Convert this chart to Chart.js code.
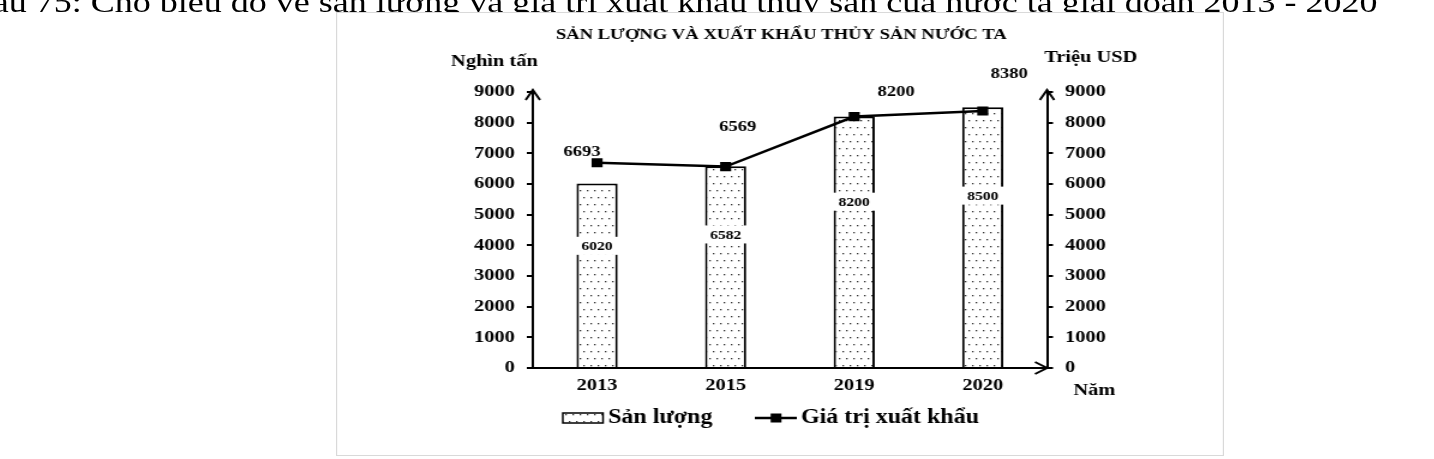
<!DOCTYPE html>
<html lang="vi">
<head>
<meta charset="utf-8">
<title>Sản lượng và xuất khẩu thủy sản nước ta</title>
<script src="https://cdn.jsdelivr.net/npm/chart.js@4.4.1/dist/chart.umd.min.js"></script>
<style>
  html, body { margin: 0; padding: 0; background: #fff; overflow: hidden; }
  /* the source picture is stretched sideways, so the whole page is too */
  #page { position: absolute; left: 0; top: 0; width: 1195px; height: 459px;
          transform: scaleX(1.2); transform-origin: 0 0; overflow: hidden; }
  #question { position: absolute; right: 47px; top: -13px; white-space: nowrap;
              font-family: "Liberation Serif", serif; font-size: 30px; line-height: 30px; color: #000; }
  #box { position: absolute; left: 280px; top: 12px; width: 738px; height: 442px;
         border: 1px solid #d9d9d9; background: #fff; }
  #box canvas { position: absolute; left: 0; top: 0; }
</style>
</head>
<body>
<div id="page">
  <div id="question">Câu 75: Cho biểu đồ về sản lượng và giá trị xuất khẩu thủy sản của nước ta giai đoạn 2013 - 2020</div>
  <div id="box"><canvas id="fishChart" width="738" height="442"></canvas></div>
</div>
<script>
    // Data
    const years = ['2013', '2015', '2019', '2020'];
    const sanLuong = [6020, 6582, 8200, 8500];   // nghìn tấn (bars)
    const xuatKhau = [6693, 6569, 8200, 8380];   // triệu USD (line)
    const tickValues = [0, 1000, 2000, 3000, 4000, 5000, 6000, 7000, 8000, 9000];

    // where the line value labels sit, relative to their point
    const lineLabelOffsets = [[-12.5, -11], [10, -40], [35, -25], [22, -37]];

    const FONT = '"Liberation Serif", "Times New Roman", serif';

    // dotted fill for the bars
    function dotPattern() {
        const tile = document.createElement('canvas');
        tile.width = 6;
        tile.height = 14;
        const t = tile.getContext('2d');
        t.fillStyle = '#fff';
        t.fillRect(0, 0, 6, 14);
        t.fillStyle = '#333';
        t.fillRect(1, 2, 1.3, 1.3);
        t.fillRect(4, 9, 1.3, 1.3);
        return t.createPattern(tile, 'repeat');
    }
    const dots = dotPattern();

    const decor = {
        id: 'decor',
        afterDatasetsDraw(chart) {
            const ctx = chart.ctx;
            ctx.save();
            ctx.textAlign = 'center';
            ctx.textBaseline = 'middle';

            // values inside the bars, on a white patch
            chart.getDatasetMeta(1).data.forEach((bar, i) => {
                const y = bar.base - (bar.base - bar.y) * 0.66;
                ctx.fillStyle = '#fff';
                ctx.fillRect(bar.x - 18.5, y - 9, 37, 18);
                ctx.fillStyle = '#000';
                ctx.font = 'bold 13px ' + FONT;
                ctx.fillText(String(sanLuong[i]), bar.x, y + 1);
            });

            // values near the line points
            chart.getDatasetMeta(0).data.forEach((pt, i) => {
                ctx.fillStyle = '#000';
                ctx.font = 'bold 15.5px ' + FONT;
                ctx.fillText(String(xuatKhau[i]), pt.x + lineLabelOffsets[i][0], pt.y + lineLabelOffsets[i][1]);
            });
            ctx.restore();
        },
        afterDraw(chart) {
            const ctx = chart.ctx;
            const a = chart.chartArea;
            const cx = chart.width / 2;
            ctx.save();
            ctx.strokeStyle = '#000';
            ctx.fillStyle = '#000';
            ctx.lineWidth = 2;

            // arrow heads on the axes
            [a.left, a.right].forEach(x => {
                ctx.beginPath();
                ctx.moveTo(x, a.top);
                ctx.lineTo(x, a.top - 2);
                ctx.moveTo(x - 6, a.top + 8);
                ctx.lineTo(x, a.top - 2);
                ctx.lineTo(x + 6, a.top + 8);
                ctx.stroke();
            });
            ctx.beginPath();
            ctx.moveTo(a.right - 10, a.bottom - 6);
            ctx.lineTo(a.right, a.bottom);
            ctx.lineTo(a.right - 10, a.bottom + 6);
            ctx.stroke();

            // title and unit labels
            ctx.textAlign = 'center';
            ctx.textBaseline = 'middle';
            ctx.font = 'bold 15.5px ' + FONT;
            ctx.fillText('SẢN LƯỢNG VÀ XUẤT KHẨU THỦY SẢN NƯỚC TA', cx + 1, 22);
            ctx.font = 'bold 17px ' + FONT;
            ctx.fillText('Nghìn tấn', a.left - 32, a.top - 30);
            ctx.fillText('Triệu USD', a.right + 36.5, a.top - 34);
            ctx.fillText('Năm', a.right + 39.5, a.bottom + 23);

            // legend
            const ly = a.bottom + 50;
            ctx.fillStyle = dots;
            ctx.fillRect(cx - 181, ly - 5, 33.5, 10);
            ctx.lineWidth = 1.5;
            ctx.strokeRect(cx - 181, ly - 5, 33.5, 10);
            ctx.lineWidth = 2.5;
            ctx.beginPath();
            ctx.moveTo(cx - 21, ly);
            ctx.lineTo(cx + 14, ly);
            ctx.stroke();
            ctx.fillStyle = '#000';
            ctx.fillRect(cx - 3.3 - 4.5, ly - 4.5, 9, 9);
            ctx.textAlign = 'left';
            ctx.font = 'bold 20px ' + FONT;
            ctx.fillText('Sản lượng', cx - 143.3, ly);
            ctx.fillText('Giá trị xuất khẩu', cx + 17.5, ly);
            ctx.restore();
        }
    };

    const yTickStyle = {
        color: '#000',
        padding: 10,
        font: { family: FONT, size: 17, weight: 'bold' },
        callback: value => String(value)
    };
    const yGrid = { drawOnChartArea: false, drawTicks: true, tickLength: 5, color: '#000', lineWidth: 2 };

    const ctxFish = document.getElementById('fishChart').getContext('2d');
    const fishChart = new Chart(ctxFish, {
        type: 'bar',
        data: {
            labels: years,
            datasets: [{
                type: 'line',
                label: 'Giá trị xuất khẩu',
                data: xuatKhau,
                yAxisID: 'y1',
                borderColor: '#000',
                borderWidth: 2.5,
                pointStyle: 'rect',
                pointRadius: 6.5,
                pointBackgroundColor: '#000',
                pointBorderWidth: 0,
                tension: 0,
                order: 0
            }, {
                type: 'bar',
                label: 'Sản lượng',
                data: sanLuong,
                yAxisID: 'y',
                backgroundColor: dots,
                borderColor: '#000',
                borderWidth: { left: 2, right: 2, top: 2, bottom: 0 },
                borderSkipped: 'bottom',
                barPercentage: 0.32,
                categoryPercentage: 1,
                order: 1
            }]
        },
        options: {
            responsive: false,
            animation: false,
            layout: { padding: { top: 79, left: 0, right: 0, bottom: 0 } },
            plugins: {
                legend: { display: false },
                title: { display: false },
                tooltip: { enabled: false }
            },
            scales: {
                x: {
                    grid: { display: false, drawTicks: false },
                    border: { display: true, color: '#000', width: 2 },
                    ticks: { color: '#000', padding: 7, font: { family: FONT, size: 17, weight: 'bold' } },
                    afterFit(scale) { scale.height = 87; }
                },
                y: {
                    position: 'left',
                    min: 0,
                    max: 9000,
                    afterBuildTicks(scale) { scale.ticks = tickValues.map(v => ({ value: v })); },
                    grid: yGrid,
                    border: { display: true, color: '#000', width: 2 },
                    ticks: yTickStyle,
                    afterFit(scale) { scale.width = 163; }
                },
                y1: {
                    position: 'right',
                    min: 0,
                    max: 9000,
                    afterBuildTicks(scale) { scale.ticks = tickValues.map(v => ({ value: v })); },
                    grid: yGrid,
                    border: { display: true, color: '#000', width: 2 },
                    ticks: yTickStyle,
                    afterFit(scale) { scale.width = 146.5; }
                }
            }
        },
        plugins: [decor]
    });
</script>
</body>
</html>
